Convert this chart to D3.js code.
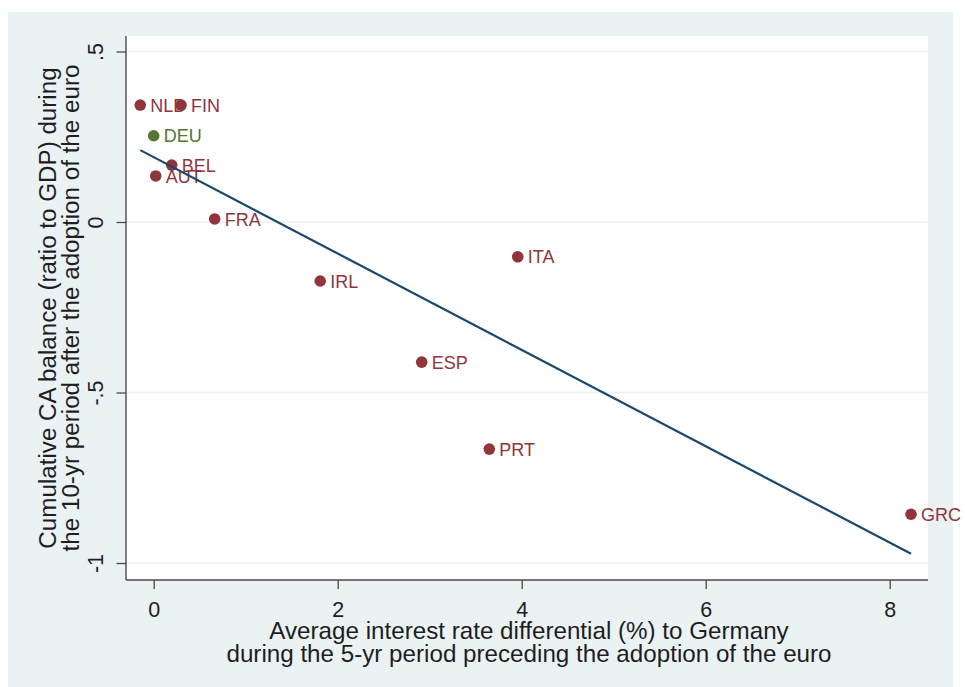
<!DOCTYPE html>
<html>
<head>
<meta charset="utf-8">
<script src="https://cdn.jsdelivr.net/npm/d3@7/dist/d3.min.js"></script>
<style>
  html, body { margin: 0; padding: 0; background: #ffffff; }
  svg { display: block; font-family: "Liberation Sans", Arial, Helvetica, sans-serif; }
</style>
</head>
<body>
<svg id="chart" width="965" height="687"></svg>
<script>
// Euro-area countries: interest-rate differential vs cumulative current account
const countries  = ["NLD", "FIN", "DEU", "BEL", "AUT", "FRA", "IRL", "ITA", "ESP", "PRT", "GRC"];
const rateDiff   = [-0.146, 0.297, 0.0, 0.196, 0.022, 0.663, 1.81, 3.957, 2.913, 3.648, 8.232];
const caBalance  = [0.343, 0.343, 0.253, 0.167, 0.135, 0.009, -0.173, -0.102, -0.411, -0.666, -0.857];
const highlight  = ["DEU"];

const xTicks = [0, 2, 4, 6, 8];
const xTickLabels = ["0", "2", "4", "6", "8"];
const yTicks = [0.5, 0, -0.5, -1];
const yTickLabels = [".5", "0", "-.5", "-1"];

const xTitle = ["Average interest rate differential (%) to Germany",
                "during the 5-yr period preceding the adoption of the euro"];
const yTitle = ["Cumulative CA balance (ratio to GDP) during",
                "the 10-yr period after the adoption of the euro"];

// Stata s2color-like palette
const C = {
  outer: "#eaf2f3",
  grid: "#eaf2f3",
  axis: "#4a4a4a",
  text: "#1e1e1e",
  maroon: "#90353b",
  green: "#55752f",
  navy: "#1a476f"
};

const svg = d3.select("#chart");
const plot = { left: 126, right: 928, top: 36, bottom: 580 };

const x = d3.scaleLinear().domain([0, 8]).range([153.7, 889.7]);
const y = d3.scaleLinear().domain([-1, 0.5]).range([563, 51.5]);

// outer graph region
svg.append("rect").attr("x", 8).attr("y", 12).attr("width", 945).attr("height", 675)
  .attr("fill", C.outer);
// plot region
svg.append("rect").attr("x", plot.left).attr("y", plot.top)
  .attr("width", plot.right - plot.left).attr("height", plot.bottom - plot.top)
  .attr("fill", "#ffffff");

// horizontal gridlines
svg.append("g").selectAll("line").data(yTicks).join("line")
  .attr("x1", plot.left).attr("x2", plot.right)
  .attr("y1", d => y(d)).attr("y2", d => y(d))
  .attr("stroke", C.grid).attr("stroke-width", 1.6);

// y axis
const yAxis = svg.append("g").attr("transform", `translate(${plot.left},0)`)
  .call(d3.axisLeft(y).tickValues(yTicks).tickSize(9.5).tickPadding(0)
        .tickFormat((d, i) => yTickLabels[i]));
yAxis.select(".domain").remove();
yAxis.selectAll(".tick line").attr("stroke", C.axis).attr("stroke-width", 1.3);
yAxis.selectAll(".tick text")
  .attr("x", null).attr("dy", null)
  .attr("transform", "rotate(-90)")
  .attr("y", -23.5)
  .attr("text-anchor", "middle")
  .attr("fill", C.text)
  .style("font-size", "21.5px");
svg.append("line").attr("x1", plot.left).attr("x2", plot.left)
  .attr("y1", plot.top).attr("y2", plot.bottom)
  .attr("stroke", C.axis).attr("stroke-width", 1.4);

// x axis
const xAxis = svg.append("g").attr("transform", `translate(0,${plot.bottom})`)
  .call(d3.axisBottom(x).tickValues(xTicks).tickSize(9).tickPadding(0)
        .tickFormat((d, i) => xTickLabels[i]));
xAxis.select(".domain").remove();
xAxis.selectAll(".tick line").attr("stroke", C.axis).attr("stroke-width", 1.3);
xAxis.selectAll(".tick text")
  .attr("y", 36.5).attr("dy", null)
  .attr("fill", C.text)
  .style("font-size", "21.5px");
svg.append("line").attr("x1", plot.left).attr("x2", plot.right)
  .attr("y1", plot.bottom).attr("y2", plot.bottom)
  .attr("stroke", C.axis).attr("stroke-width", 1.4);

// axis titles
const midX = (plot.left + plot.right) / 2;
svg.append("g").selectAll("text").data(xTitle).join("text")
  .attr("x", midX + 2).attr("y", (d, i) => 638.5 + i * 23)
  .attr("text-anchor", "middle").attr("fill", C.text)
  .style("font-size", "24.2px").text(d => d);

const midY = (plot.top + plot.bottom) / 2;
svg.append("g").selectAll("text").data(yTitle).join("text")
  .attr("transform", (d, i) => `translate(${56 + i * 22.5},${midY}) rotate(-90)`)
  .attr("text-anchor", "middle").attr("fill", C.text)
  .style("font-size", "24.2px").text(d => d);

// points and labels
const pts = countries.map((c, i) => ({ c, x: rateDiff[i], y: caBalance[i] }));
const colorOf = d => highlight.includes(d.c) ? C.green : C.maroon;

svg.append("g").selectAll("circle").data(pts).join("circle")
  .attr("cx", d => x(d.x)).attr("cy", d => y(d.y)).attr("r", 5.8)
  .attr("fill", colorOf);

svg.append("g").selectAll("text").data(pts).join("text")
  .attr("x", d => x(d.x) + 10).attr("y", d => y(d.y) + 6.6)
  .attr("fill", colorOf)
  .style("font-size", "18px")
  .text(d => d.c);

// least-squares fitted line across the data range
const mx = d3.mean(rateDiff), my = d3.mean(caBalance);
const sxy = d3.sum(rateDiff, (v, i) => (v - mx) * (caBalance[i] - my));
const sxx = d3.sum(rateDiff, v => (v - mx) * (v - mx));
const slope = sxy / sxx, intercept = my - slope * mx;
const [x0, x1] = d3.extent(rateDiff);
svg.append("line")
  .attr("x1", x(x0)).attr("y1", y(intercept + slope * x0))
  .attr("x2", x(x1)).attr("y2", y(intercept + slope * x1))
  .attr("stroke", C.navy).attr("stroke-width", 2.2);
</script>
</body>
</html>
